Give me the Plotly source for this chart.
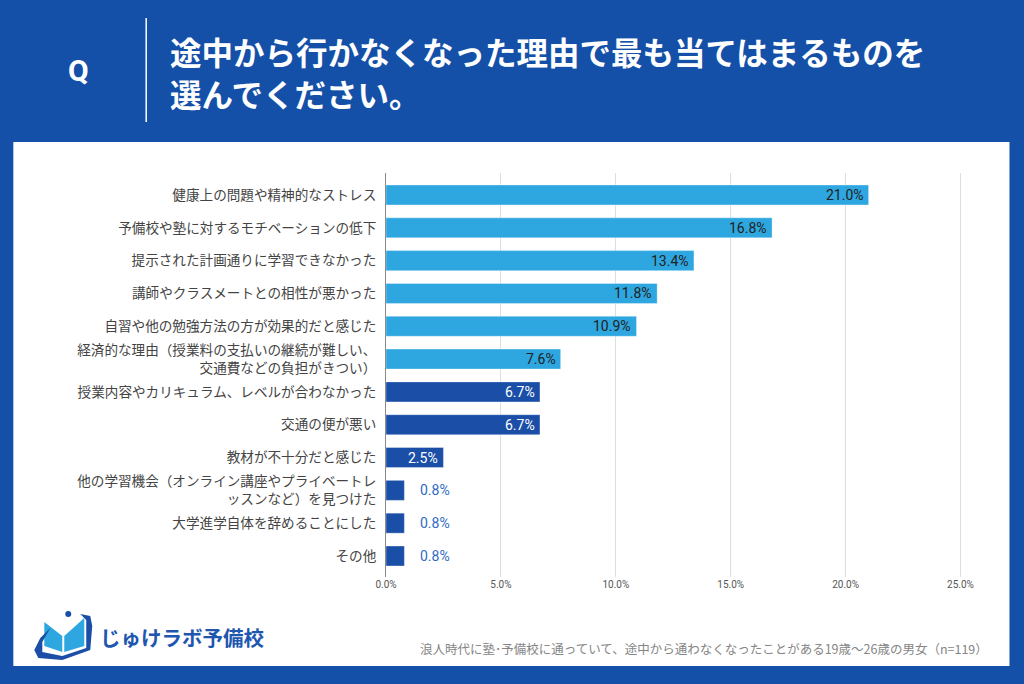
import plotly.graph_objects as go

categories = [
    "健康上の問題や精神的なストレス",
    "予備校や塾に対するモチベーションの低下",
    "提示された計画通りに学習できなかった",
    "講師やクラスメートとの相性が悪かった",
    "自習や他の勉強方法の方が効果的だと感じた",
    "経済的な理由（授業料の支払いの継続が難しい、<br>交通費などの負担がきつい）",
    "授業内容やカリキュラム、レベルが合わなかった",
    "交通の便が悪い",
    "教材が不十分だと感じた",
    "他の学習機会（オンライン講座やプライベートレ<br>ッスンなど）を見つけた",
    "大学進学自体を辞めることにした",
    "その他",
]
values = [21.0, 16.8, 13.4, 11.8, 10.9, 7.6, 6.7, 6.7, 2.5, 0.8, 0.8, 0.8]
x_tick_vals = [0, 5, 10, 15, 20, 25]
x_tick_text = ["0.0%", "5.0%", "10.0%", "15.0%", "20.0%", "25.0%"]

title_lines = ["途中から行かなくなった理由で最も当てはまるものを", "選んでください。"]
footer_note = "浪人時代に塾･予備校に通っていて、途中から通わなくなったことがある19歳～26歳の男女（n=119）"
brand = "じゅけラボ予備校"

BG = "#1550A8"
LIGHT = "#2EA6DF"
DARK = "#1A4EA7"

W, H = 1024, 684
L, T = 386, 173
PB = 577
XMAX = 25.5
PPU = 23.0
PW = XMAX * PPU
PH = PB - T
R = W - L - PW
B = H - PB

def px(x):
    return (x - L) / PW

def py(y):
    return (PB - y) / PH

n = len(categories)
ypos = list(range(n))
colors = [LIGHT if i < 6 else DARK for i in range(n)]

fig = go.Figure()
fig.add_trace(go.Bar(
    x=values, y=ypos, orientation="h",
    marker=dict(color=colors, line=dict(color="rgba(255,255,255,0.35)", width=1)),
    width=0.61, textposition="none", hoverinfo="skip",
))

annotations = []
for i, v in enumerate(values):
    if v >= 2:
        annotations.append(dict(
            x=v, y=i, xref="x", yref="y", text=f"{v:.1f}%", showarrow=False,
            xanchor="right", yanchor="middle", xshift=-3,
            font=dict(family="Roboto", size=14, color="#222222" if i < 6 else "#FFFFFF"),
        ))
    else:
        annotations.append(dict(
            x=v, y=i, xref="x", yref="y", text=f"{v:.1f}%", showarrow=False,
            xanchor="left", yanchor="middle", xshift=14,
            font=dict(family="Roboto", size=14, color="#2F6BC4"),
        ))

# header
annotations.append(dict(x=px(78), y=py(70), xref="paper", yref="paper", text="<b>Q</b>",
                        showarrow=False, xanchor="center", yanchor="middle",
                        font=dict(family="Roboto", size=30, color="white")))
for k, line in enumerate(title_lines):
    annotations.append(dict(x=px(168), y=py(51 + 42 * k), xref="paper", yref="paper",
                            text=f"<b>{line}</b>", showarrow=False,
                            xanchor="left", yanchor="middle",
                            font=dict(family="Noto Sans CJK JP", size=31.5, color="white")))
# footer
annotations.append(dict(x=px(991), y=py(648), xref="paper", yref="paper", text=footer_note,
                        showarrow=False, xanchor="right", yanchor="middle",
                        font=dict(family="Noto Sans CJK JP", size=12.5, color="#858585")))
annotations.append(dict(x=px(98), y=py(637), xref="paper", yref="paper", text=f"<b>{brand}</b>",
                        showarrow=False, xanchor="left", yanchor="middle",
                        font=dict(family="Noto Sans CJK JP", size=20.5, color="#1E56B0")))

def path(points, close=True):
    s = "M " + " L ".join(f"{px(x):.5f},{py(y):.5f}" for x, y in points)
    return s + (" Z" if close else "")

shapes = [
    dict(type="rect", xref="paper", yref="paper", x0=px(13), x1=px(1010), y0=py(666), y1=py(142),
         fillcolor="white", line=dict(width=0), layer="below"),
    dict(type="line", xref="paper", yref="paper", x0=px(146), x1=px(146), y0=py(18), y1=py(122),
         line=dict(color="white", width=1.5)),
    # logo book
    dict(type="path", xref="paper", yref="paper",
         path=path([(44, 622), (62, 636), (62, 652), (44, 646)]),
         fillcolor=LIGHT, line=dict(width=0)),
    dict(type="path", xref="paper", yref="paper",
         path=path([(64, 636), (84, 618), (84, 646), (64, 652)]),
         fillcolor=LIGHT, line=dict(width=0)),
    dict(type="path", xref="paper", yref="paper",
         path=path([(38, 658), (34, 650), (40, 638), (50, 628), (42, 642), (42, 652), (62, 656),
                    (86, 648), (86, 620), (80, 614), (90, 616), (92, 626), (90, 650), (62, 660)]),
         fillcolor=DARK, line=dict(width=0)),
    dict(type="circle", xref="paper", yref="paper", x0=px(65), x1=px(71), y0=py(617), y1=py(611),
         fillcolor=DARK, line=dict(width=0)),
]

fig.update_layout(
    width=W, height=H,
    margin=dict(l=L, r=R, t=T, b=B, pad=0),
    paper_bgcolor=BG, plot_bgcolor="white",
    showlegend=False,
    xaxis=dict(range=[0, XMAX], tickvals=x_tick_vals, ticktext=x_tick_text,
               showgrid=True, gridcolor="#DEDEDE", gridwidth=1, zeroline=False,
               tickfont=dict(family="Roboto", size=10, color="#555555"),
               ticks="", fixedrange=True),
    yaxis=dict(range=[11.64, -0.67], tickvals=ypos, ticktext=categories,
               showgrid=False, zeroline=False, showline=True, linecolor="#8A8A8A", linewidth=1,
               tickfont=dict(family="Noto Sans CJK JP", size=13.6, color="#444444"),
               ticks="", ticklabelstandoff=6, fixedrange=True),
    annotations=annotations,
    shapes=shapes,
    bargap=0.39,
)

fig.write_html("out.html")
